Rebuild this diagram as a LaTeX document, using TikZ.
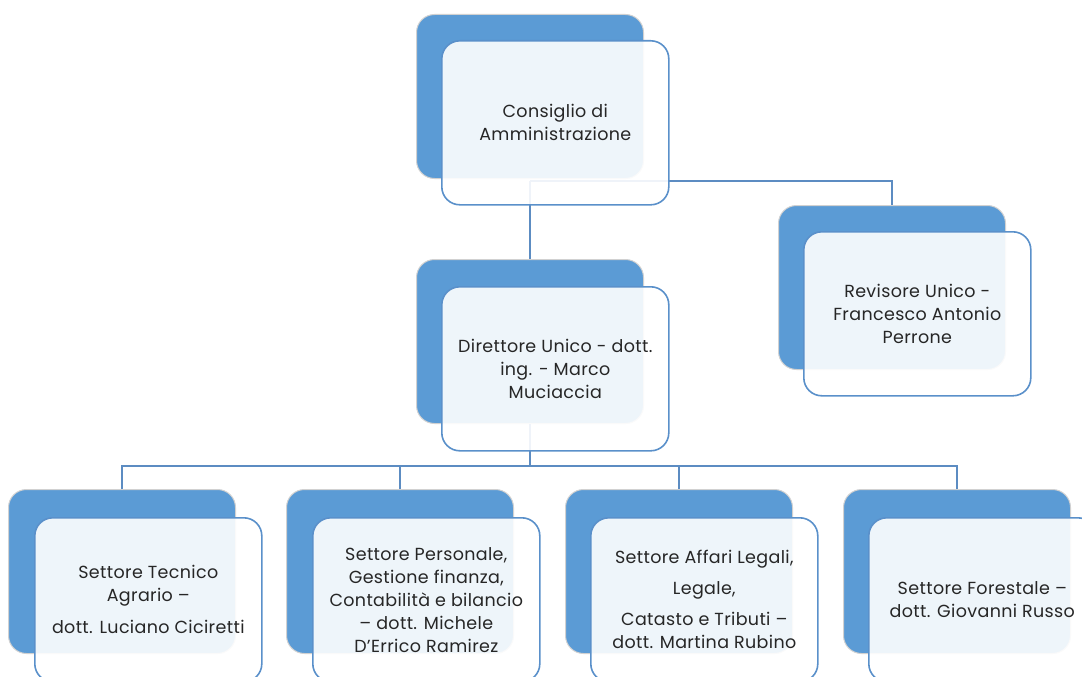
\documentclass[tikz,border=0pt]{standalone}
\usepackage{fontspec}
\setmainfont{Poppins}[LetterSpace=2.0]
\usetikzlibrary{calc}
\definecolor{backblue}{HTML}{5B9BD5}
\definecolor{frontline}{HTML}{5A90CA}
\definecolor{connblue}{HTML}{5C8CC2}
\definecolor{txt}{HTML}{262626}
\tikzset{
  backbox/.style={anchor=north west, rectangle, rounded corners=18pt, fill=backblue,
    draw=black!18, line width=1pt, minimum width=227pt, minimum height=164pt, inner sep=0pt},
  frontbox/.style={anchor=north west, rectangle, rounded corners=18pt, fill=white, fill opacity=0.9,
    text opacity=1, draw=frontline, line width=1.6pt, minimum width=227pt, minimum height=164pt,
    inner sep=0pt, align=center, text=txt, font=\fontsize{17.5}{23}\selectfont},
  conn/.style={draw=connblue, line width=1.8pt}
}
\begin{document}
\begin{tikzpicture}[x=1pt,y=-1pt]
\useasboundingbox (0,0) rectangle (1082,677);
% back boxes
\node[backbox] (Cb) at (416,14) {};
\node[backbox] (Rb) at (778,205) {};
\node[backbox] (Db) at (416,259) {};
\node[backbox] (S1b) at (8,489) {};
\node[backbox] (S2b) at (286,489) {};
\node[backbox] (S3b) at (565,489) {};
\node[backbox] (S4b) at (843,489) {};
% connectors
\coordinate (top) at ($(Cb.south)+(0,2)$);
\draw[conn] (top) -- (Db.north);
\draw[conn] (top) -| (Rb.north);
\coordinate (bus) at ($(Db.south)+(0,42)$);
\draw[conn] (Db.south) -- (bus);
\draw[conn] (S1b.north) |- (bus) -| (S4b.north);
\draw[conn] (S2b.north) -- (S2b.north |- bus);
\draw[conn] (S3b.north) -- (S3b.north |- bus);
% front boxes
\node[frontbox] (Cf) at (441,40) {Consiglio di\\Amministrazione};
\node[frontbox] (Rf) at (803,231) {Revisore Unico -\\Francesco Antonio\\Perrone};
\node[frontbox] (Df) at (441,286) {Direttore Unico - dott.\\ing. - Marco\\Muciaccia};
\node[frontbox] (S1f) at (34,517) {Settore Tecnico\\Agrario –\\[9pt]dott. Luciano Ciciretti};
\node[frontbox] (S2f) at (312,517) {Settore Personale,\\Gestione finanza,\\Contabilità e bilancio\\– dott. Michele\\D’Errico Ramirez};
\node[frontbox] (S3f) at (590,517) {Settore Affari Legali,\\[8pt]Legale,\\[8pt]Catasto e Tributi –\\dott. Martina Rubino};
\node[frontbox] (S4f) at (868,517) {Settore Forestale –\\dott. Giovanni Russo};
\end{tikzpicture}
\end{document}
